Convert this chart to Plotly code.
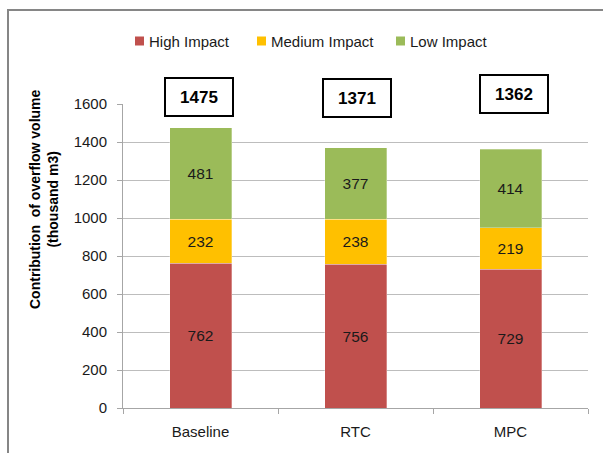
import plotly.graph_objects as go

# Scenario categories and impact contributions (thousand m3)
scenarios = ["Baseline", "RTC", "MPC"]
high_impact = [762, 756, 729]
medium_impact = [232, 238, 219]
low_impact = [481, 377, 414]

series_names = ["High Impact", "Medium Impact", "Low Impact"]
series_values = [high_impact, medium_impact, low_impact]
series_colors = ["#C0504D", "#FFC000", "#9BBB59"]

y_ticks = [0, 200, 400, 600, 800, 1000, 1200, 1400, 1600]

totals = [sum(v) for v in zip(high_impact, medium_impact, low_impact)]

FONT = "Liberation Sans, Arial, sans-serif"
W, H = 603, 453
L, R, T, B = 123, 15, 104, 45
PW, PH = W - L - R, H - T - B


def px_x(px):
    return (px - L) / PW


def px_y(py):
    return (H - B - py) / PH


fig = go.Figure()
for name, vals, color in zip(series_names, series_values, series_colors):
    fig.add_trace(go.Bar(
        x=scenarios, y=vals, name=name,
        marker=dict(color=color, line=dict(color="rgba(255,255,255,0.6)", width=0.5)),
        text=[str(v) for v in vals], textposition="inside",
        insidetextanchor="middle",
        textfont=dict(family=FONT, size=15.5, color="#1a1a1a"),
        width=0.4, showlegend=False,
    ))

# Total boxes above each stack
box_shift = [-2, 1, 3]
box_top = [97, 98, 94]
for cat, tot, dx, ty in zip(scenarios, totals, box_shift, box_top):
    fig.add_annotation(
        x=cat, xref="x", xshift=dx, y=px_y(ty), yref="paper",
        text="<b>%d</b>" % tot, showarrow=False,
        font=dict(family=FONT, size=17, color="#000000"),
        bordercolor="#000000", borderwidth=2, borderpad=2,
        bgcolor="#FFFFFF", width=62, height=32,
        xanchor="center", yanchor="middle",
    )

# Legend drawn as swatches with labels
legend_swatch_px = [135, 257, 396]
for name, color, sx in zip(series_names, series_colors, legend_swatch_px):
    fig.add_shape(type="rect", xref="paper", yref="paper",
                  x0=px_x(sx), x1=px_x(sx + 9),
                  y0=px_y(45.5), y1=px_y(36.5),
                  fillcolor=color, line=dict(width=0))
    fig.add_annotation(x=px_x(sx + 12), y=px_y(41), xref="paper", yref="paper",
                       text=name, showarrow=False, xanchor="left", yanchor="middle",
                       font=dict(family=FONT, size=15, color="#1a1a1a"))

# Y-axis title
fig.add_annotation(x=px_x(44), y=px_y(199), xref="paper", yref="paper",
                   xanchor="center", yanchor="middle",
                   text="<b>Contribution  of overflow volume<br>(thousand m3)</b>",
                   textangle=-90, showarrow=False,
                   font=dict(family=FONT, size=14, color="#000000"))

# Outer chart frame
fig.add_shape(type="rect", xref="paper", yref="paper",
              x0=px_x(8), x1=px_x(620), y0=px_y(470), y1=px_y(10),
              line=dict(color="#868686", width=2), fillcolor="rgba(0,0,0,0)")

fig.update_layout(
    barmode="stack",
    width=W, height=H,
    margin=dict(l=L, r=R, t=T, b=B, pad=0),
    paper_bgcolor="#FFFFFF", plot_bgcolor="#FFFFFF",
    xaxis=dict(
        showgrid=False, showline=True, linecolor="#A6A6A6", linewidth=1,
        ticks="outside", tickson="boundaries", ticklen=5, tickcolor="#A6A6A6",
        tickfont=dict(family=FONT, size=15, color="#1a1a1a"),
        ticklabelstandoff=10,
    ),
    yaxis=dict(
        range=[0, 1600], tickvals=y_ticks,
        showgrid=True, gridcolor="#BDBDBD", gridwidth=1,
        showline=True, linecolor="#A6A6A6", linewidth=1,
        ticks="outside", ticklen=5, tickcolor="#A6A6A6",
        tickfont=dict(family=FONT, size=15, color="#1a1a1a"),
        ticklabelstandoff=7, zeroline=False,
    ),
    showlegend=False,
)

fig.write_html("out.html")
